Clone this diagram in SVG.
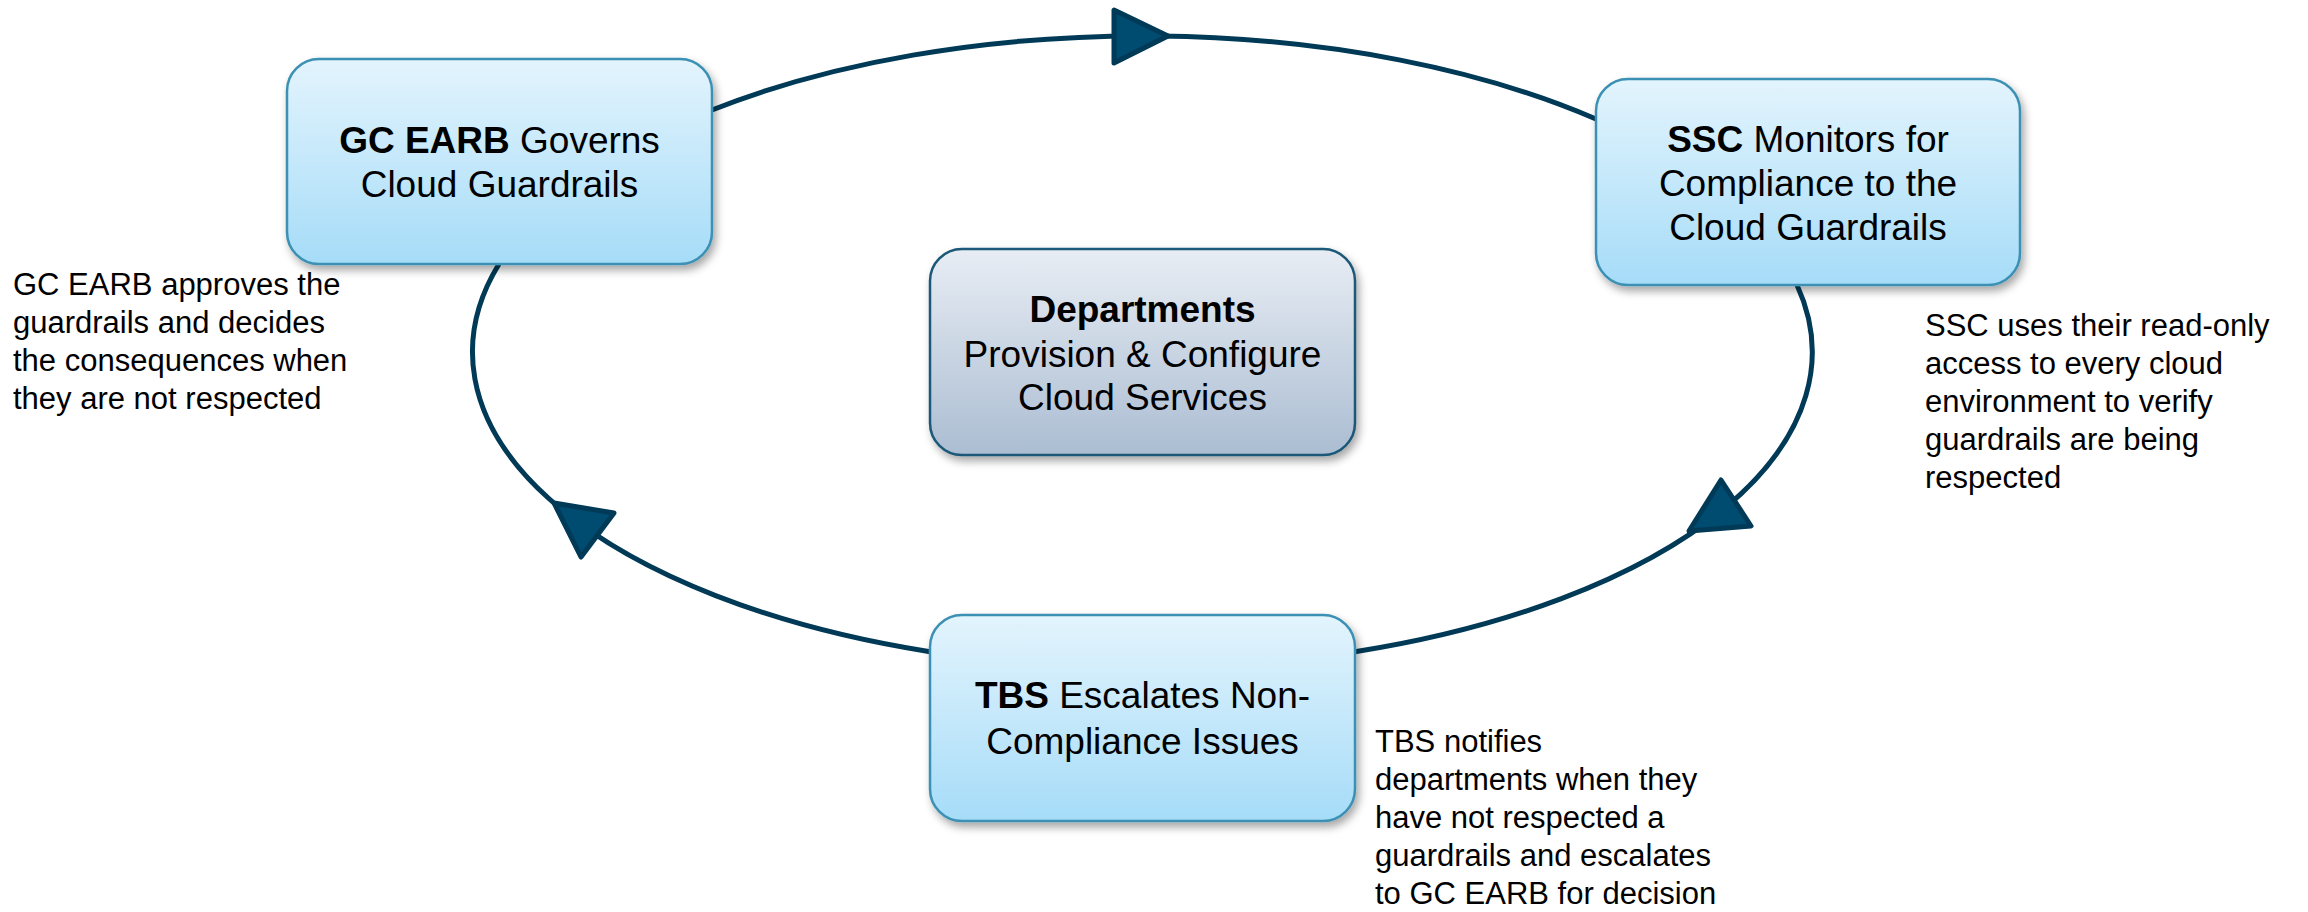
<svg xmlns="http://www.w3.org/2000/svg" width="2308" height="912" viewBox="0 0 2308 912">
<defs>
<linearGradient id="gBlue" x1="0" y1="0" x2="0" y2="1">
<stop offset="0" stop-color="#e3f4fd"/>
<stop offset="1" stop-color="#a6dcf8"/>
</linearGradient>
<linearGradient id="gGrey" x1="0" y1="0" x2="0" y2="1">
<stop offset="0" stop-color="#e8edf4"/>
<stop offset="1" stop-color="#abbdd2"/>
</linearGradient>
<filter id="shadow" x="-10%" y="-10%" width="125%" height="130%">
<feDropShadow dx="3" dy="5" stdDeviation="4" flood-color="#000" flood-opacity="0.35"/>
</filter>
</defs>
<style>
.arc{fill:none;stroke:#003a57;stroke-width:5}
.head{fill:#004b70;stroke:#003a57;stroke-width:5;stroke-linejoin:round}
.box{fill:url(#gBlue);stroke:#3a90b3;stroke-width:2.5;filter:url(#shadow)}
.boxc{fill:url(#gGrey);stroke:#1b5877;stroke-width:2.5;filter:url(#shadow)}
.t{font-family:"Liberation Sans",Arial,sans-serif;font-size:37px;fill:#000;text-anchor:middle}
.n{font-family:"Liberation Sans",Arial,sans-serif;font-size:31px;fill:#000}
.b{font-weight:bold}
</style>
<rect width="2308" height="912" fill="#fff"/>
<g id="connectors">
<path class="arc" d="M712,110 A670,316 0 0 1 1596,119"/>
<path class="arc" d="M1797,285 A670,316 0 0 1 1355,651.7"/>
<path class="arc" d="M930,651.7 A670,316 0 0 1 499,264"/>
<polygon class="head" points="1114,10 1114,63 1168,36"/>
<polygon class="head" points="1721,480 1751,526 1689,531"/>
<polygon class="head" points="614,513 581,557 554,503"/>
</g>
<g id="node-gcearb">
<rect class="box" x="287" y="59" width="425" height="205" rx="32"/>
<text class="t" x="499.5" y="153"><tspan class="b">GC EARB</tspan> Governs</text>
<text class="t" x="499.5" y="197">Cloud Guardrails</text>
</g>
<g id="node-ssc">
<rect class="box" x="1596" y="79" width="424" height="206" rx="32"/>
<text class="t" x="1808" y="152"><tspan class="b">SSC</tspan> Monitors for</text>
<text class="t" x="1808" y="196">Compliance to the</text>
<text class="t" x="1808" y="240">Cloud Guardrails</text>
</g>
<g id="node-departments">
<rect class="boxc" x="930" y="249" width="425" height="206" rx="32"/>
<text class="t b" x="1142.5" y="322">Departments</text>
<text class="t" x="1142.5" y="367">Provision &amp; Configure</text>
<text class="t" x="1142.5" y="410">Cloud Services</text>
</g>
<g id="node-tbs">
<rect class="box" x="930" y="615" width="425" height="206" rx="32"/>
<text class="t" x="1142.5" y="708"><tspan class="b">TBS</tspan> Escalates Non-</text>
<text class="t" x="1142.5" y="754">Compliance Issues</text>
</g>
<g id="note-gcearb">
<text class="n" x="13" y="295">GC EARB approves the</text>
<text class="n" x="13" y="333">guardrails and decides</text>
<text class="n" x="13" y="371">the consequences when</text>
<text class="n" x="13" y="409">they are not respected</text>
</g>
<g id="note-ssc">
<text class="n" x="1925" y="336">SSC uses their read-only</text>
<text class="n" x="1925" y="374">access to every cloud</text>
<text class="n" x="1925" y="412">environment to verify</text>
<text class="n" x="1925" y="450">guardrails are being</text>
<text class="n" x="1925" y="488">respected</text>
</g>
<g id="note-tbs">
<text class="n" x="1375" y="752">TBS notifies</text>
<text class="n" x="1375" y="790">departments when they</text>
<text class="n" x="1375" y="828">have not respected a</text>
<text class="n" x="1375" y="866">guardrails and escalates</text>
<text class="n" x="1375" y="904">to GC EARB for decision</text>
</g>
</svg>
